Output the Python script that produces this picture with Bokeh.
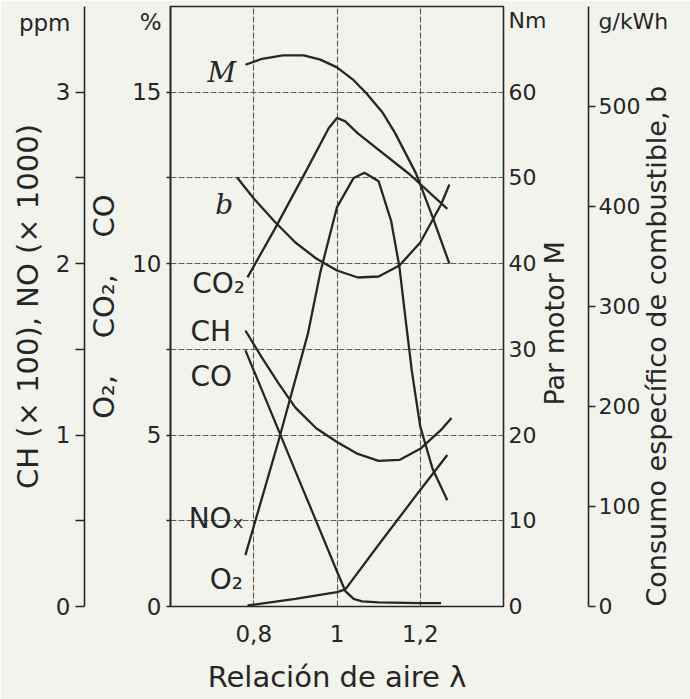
import math
from bokeh.plotting import figure
from bokeh.models import LinearAxis, Range1d, FixedTicker, Label
from bokeh.embed import file_html
from bokeh.resources import INLINE

# ---------------- data ----------------
x_ticks = [0.8, 1.0, 1.2]
x_tick_labels = ["0,8", "1", "1,2"]

pct_ticks = [0, 2.5, 5, 7.5, 10, 12.5, 15]
pct_tick_labels = ["0", "", "5", "", "10", "", "15"]
ppm_ticks = [0, 0.5, 1, 1.5, 2, 2.5, 3]
ppm_tick_labels = ["0", "", "1", "", "2", "", "3"]
nm_ticks = [0, 10, 20, 30, 40, 50, 60]
g_ticks = [0, 100, 200, 300, 400, 500]

lam_M = [0.78, 0.82, 0.87, 0.92, 0.96, 1.00, 1.04, 1.07, 1.11, 1.14, 1.19, 1.23, 1.27]
torque_M = [63.2, 63.9, 64.3, 64.3, 63.8, 62.9, 61.4, 59.9, 57.6, 55.2, 50.5, 45.4, 40.0]

lam_b = [0.76, 0.80, 0.85, 0.90, 0.95, 1.00, 1.05, 1.10, 1.15, 1.20, 1.25, 1.27]
consumo_b = [429, 408, 385, 364, 348, 336, 329, 330, 341, 364, 402, 422]

lam_co2 = [0.785, 0.85, 0.93, 0.98, 1.00, 1.02, 1.05, 1.175, 1.265]
co2 = [9.6, 11.0, 12.8, 13.95, 14.25, 14.15, 13.8, 12.6, 11.6]

lam_co = [0.78, 0.85, 0.90, 0.95, 1.00, 1.02, 1.04, 1.06, 1.10, 1.20, 1.25]
co = [7.47, 5.42, 3.95, 2.49, 1.02, 0.45, 0.22, 0.15, 0.12, 0.10, 0.10]

lam_o2 = [0.785, 0.90, 1.00, 1.02, 1.10, 1.20, 1.265]
o2 = [0.03, 0.22, 0.42, 0.50, 1.80, 3.40, 4.42]

lam_ch = [0.78, 0.82, 0.86, 0.90, 0.95, 1.00, 1.05, 1.10, 1.15, 1.20, 1.25, 1.275]
ch = [1.61, 1.45, 1.30, 1.16, 1.04, 0.96, 0.89, 0.85, 0.855, 0.92, 1.03, 1.10]

lam_nox = [0.78, 0.86, 0.93, 0.96, 1.00, 1.04, 1.066, 1.10, 1.13, 1.15, 1.165, 1.18, 1.20, 1.23, 1.265]
nox = [0.30, 0.97, 1.59, 1.95, 2.33, 2.50, 2.53, 2.48, 2.25, 1.98, 1.67, 1.37, 1.05, 0.80, 0.62]

# ---------------- layout / style ----------------
W, H = 690, 699
B_LEFT, B_RIGHT, B_TOP, B_BOTTOM = 170, 185, 6, 93
BG = "#f3f3ee"
INK = "#262626"
FONT = "DejaVu Sans"
SERIF = "DejaVu Serif"
TICK_FS_L = "23px"
TICK_FS_R = "22px"
TITLE_FS = "29px"
TITLE_FS_R = "27px"
CURVE_FS = "28px"

X0, X1 = 0.6, 1.4
Y0, Y1 = 0.0, 17.5
R_PPM, R_NM, R_G = 3.5, 70.0, 600.0

p = figure(width=W, height=H, x_range=Range1d(X0, X1), y_range=Range1d(Y0, Y1),
           output_backend="svg", toolbar_location=None,
           min_border_left=B_LEFT, min_border_right=B_RIGHT,
           min_border_top=B_TOP, min_border_bottom=B_BOTTOM,
           background_fill_color=BG, border_fill_color=BG,
           outline_line_color=INK, outline_line_width=1.6)
p.extra_y_ranges = {"ppm": Range1d(0, R_PPM), "nm": Range1d(0, R_NM), "g": Range1d(0, R_G)}

FW = W - B_LEFT - B_RIGHT
FH = H - B_TOP - B_BOTTOM


def dx(px):
    return X0 + (px - B_LEFT) / FW * (X1 - X0)


def frac(py):
    # fraction of the frame height for a pixel row
    return (B_TOP + FH - py) / FH


def dy(py):
    return Y0 + frac(py) * (Y1 - Y0)


def style_axis(ax, ticks, labels=None, tick_len=0, standoff=6, title=None, title_standoff=10,
               unit=None, unit_value=None, font_size=TICK_FS_L):
    all_ticks = list(ticks)
    overrides = {}
    if labels is not None:
        overrides.update({t: l for t, l in zip(ticks, labels)})
    if unit is not None:
        all_ticks.append(unit_value)
        overrides[unit_value] = unit
    ax.ticker = FixedTicker(ticks=all_ticks, minor_ticks=list(ticks))
    if overrides:
        ax.major_label_overrides = overrides
    # the visible tick marks are drawn as "minor" ticks so that the unit label gets none
    ax.major_tick_out = tick_len
    ax.major_tick_in = 0
    ax.major_tick_line_color = None
    ax.minor_tick_out = tick_len
    ax.minor_tick_in = 0
    ax.minor_tick_line_color = INK if tick_len > 0 else None
    ax.minor_tick_line_width = 1.5
    ax.axis_line_color = INK
    ax.axis_line_width = 1.6
    ax.major_label_standoff = standoff
    ax.major_label_text_font = FONT
    ax.major_label_text_font_size = font_size
    ax.major_label_text_color = INK
    ax.major_label_orientation = "horizontal"
    if title is not None:
        ax.axis_label = title
        ax.axis_label_standoff = title_standoff
        ax.axis_label_text_font = FONT
        ax.axis_label_text_font_size = TITLE_FS
        ax.axis_label_text_font_style = "normal"
        ax.axis_label_text_color = INK


def spacer(range_name, size):
    a = LinearAxis(y_range_name=range_name, ticker=FixedTicker(ticks=[]))
    a.axis_line_color = None
    a.major_tick_line_color = None
    a.minor_tick_line_color = None
    a.major_tick_out = size
    a.major_tick_in = 0
    a.minor_tick_out = 0
    a.minor_tick_in = 0
    a.major_label_standoff = 0
    return a


def rotated_title(range_name, value, text, size, standoff):
    # a vertical title on the right, reading bottom-to-top, starting at `value`
    a = LinearAxis(y_range_name=range_name, ticker=FixedTicker(ticks=[value]))
    a.major_label_overrides = {value: text}
    a.major_label_orientation = math.pi / 2
    a.axis_line_color = None
    a.major_tick_line_color = None
    a.minor_tick_line_color = None
    a.major_tick_out = 0
    a.major_tick_in = 0
    a.minor_tick_out = 0
    a.minor_tick_in = 0
    a.major_label_standoff = standoff
    a.major_label_text_font = FONT
    a.major_label_text_font_size = size
    a.major_label_text_color = INK
    return a


# x axis
xa = p.xaxis[0]
style_axis(xa, x_ticks, x_tick_labels, tick_len=0, standoff=18,
           title="Relación de aire λ", title_standoff=15)
xa.axis_line_color = None

# % axis (frame left)
ya = p.yaxis[0]
style_axis(ya, pct_ticks, pct_tick_labels, tick_len=4, standoff=5,
           title="O₂,\u00a0\u00a0\u00a0 CO₂,\u00a0\u00a0\u00a0 CO", title_standoff=8,
           unit="%", unit_value=dy(21))

p.add_layout(spacer("ppm", 8), "left")

ppm_ax = LinearAxis(y_range_name="ppm")
style_axis(ppm_ax, ppm_ticks, ppm_tick_labels, tick_len=9, standoff=5,
           title="CH (× 100), NO (× 1000)", title_standoff=-29,
           unit="ppm", unit_value=frac(22) * R_PPM)
p.add_layout(ppm_ax, "left")

# right side
nm_ax = LinearAxis(y_range_name="nm")
style_axis(nm_ax, nm_ticks, None, tick_len=0, standoff=5,
           unit="Nm", unit_value=frac(20) * R_NM, font_size=TICK_FS_R)
nm_ax.axis_line_color = None
p.add_layout(nm_ax, "right")

p.add_layout(rotated_title("nm", frac(405) * R_NM, "Par motor M", TITLE_FS_R, 5), "right")

g_ax = LinearAxis(y_range_name="g")
style_axis(g_ax, g_ticks, None, tick_len=7, standoff=3,
           unit="g/kWh", unit_value=frac(21) * R_G, font_size=TICK_FS_R)
p.add_layout(g_ax, "right")

p.add_layout(rotated_title("g", 0, "Consumo específico de combustible, b", TITLE_FS_R, -15), "right")

# grid
p.xgrid[0].ticker = FixedTicker(ticks=x_ticks)
p.ygrid[0].ticker = FixedTicker(ticks=pct_ticks[1:])
for g in (p.xgrid[0], p.ygrid[0]):
    g.grid_line_color = "#5a5a5a"
    g.grid_line_width = 1.1
    g.grid_line_dash = "6 2"

# curves
LW = 2.3
p.line(lam_M, torque_M, y_range_name="nm", line_color=INK, line_width=LW)
p.line(lam_b, consumo_b, y_range_name="g", line_color=INK, line_width=LW)
p.line(lam_co2, co2, line_color=INK, line_width=LW)
p.line(lam_co, co, line_color=INK, line_width=LW)
p.line(lam_o2, o2, line_color=INK, line_width=LW)
p.line(lam_ch, ch, y_range_name="ppm", line_color=INK, line_width=LW)
p.line(lam_nox, nox, y_range_name="ppm", line_color=INK, line_width=LW)


def add_label(text, px, py, align="right", font=FONT, size=CURVE_FS, style="normal"):
    # (px, py): right edge and vertical middle of the capitals, in canvas pixels
    p.add_layout(Label(x=dx(px), y=dy(py), text=text, text_align=align,
                       text_baseline="middle", text_font=font, text_font_size=size,
                       text_font_style=style, text_color=INK))


# curve names
add_label("M", 236, 72, font=SERIF, style="italic")
add_label("b", 233, 204, font=SERIF, style="italic")
add_label("CO₂", 245, 283)
add_label("CH", 231, 331)
add_label("CO", 232, 376)
add_label("NOₓ", 244, 518)
add_label("O₂", 243, 579)

open("out.html", "w", encoding="utf-8").write(file_html(p, INLINE))
